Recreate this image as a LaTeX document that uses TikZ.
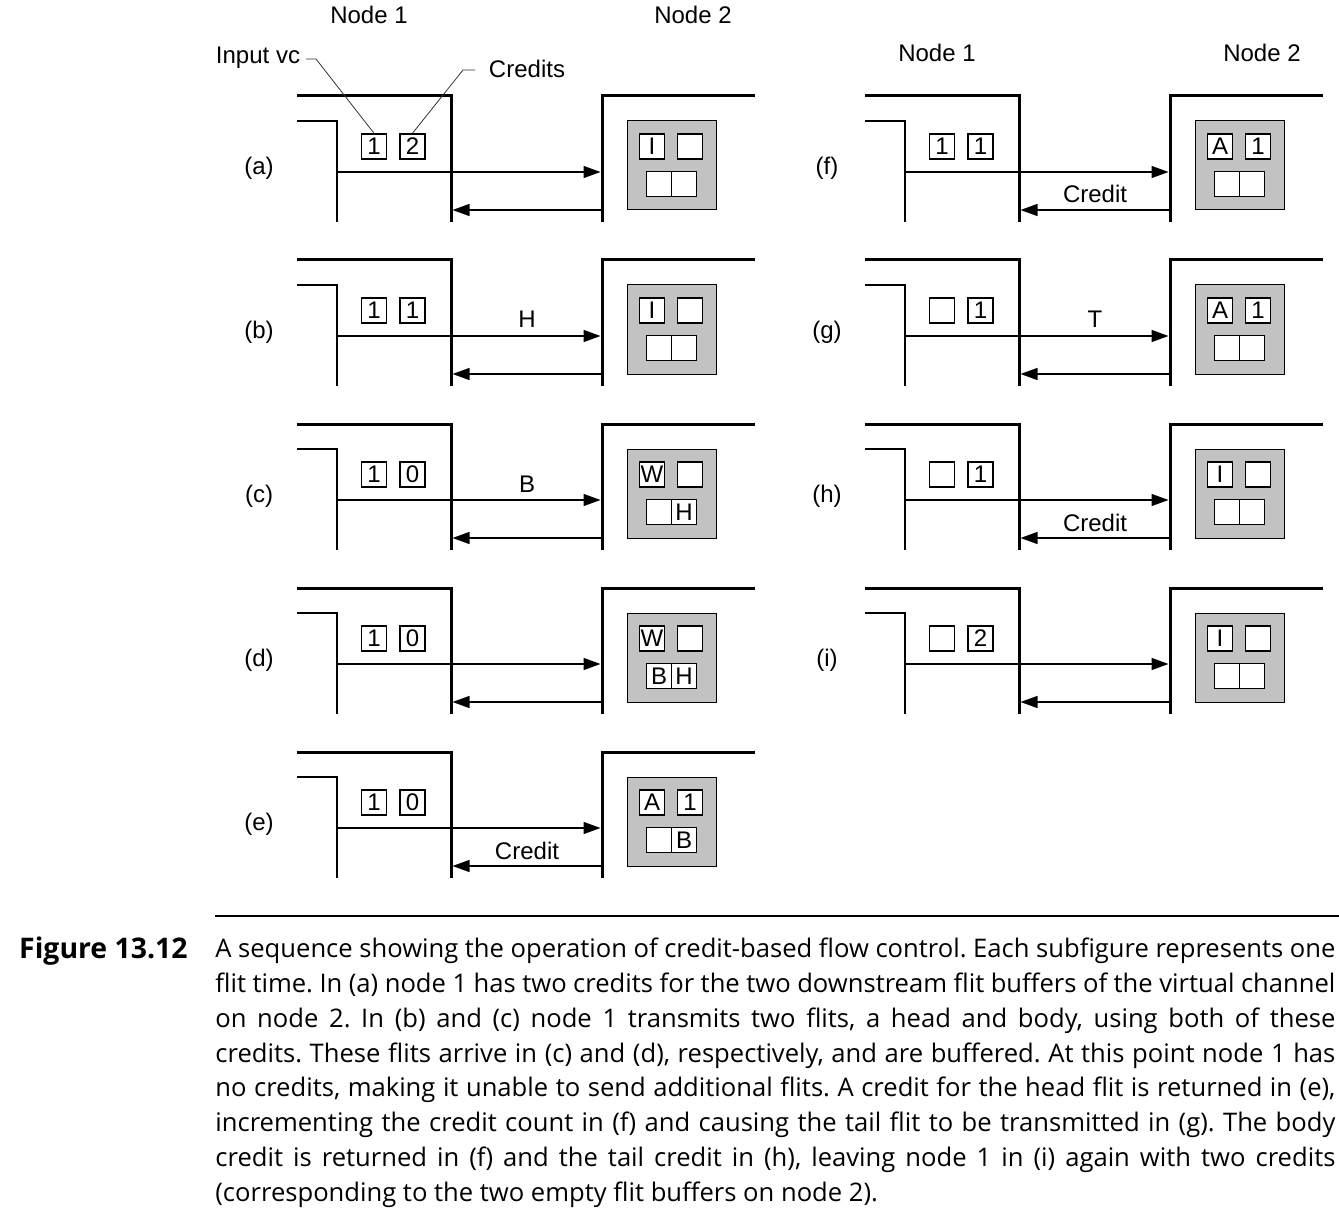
\documentclass[tikz,border=0pt]{standalone}
\usepackage{fontspec}
\setmainfont{Liberation Sans}
\newfontfamily\capfont{Open Sans}
\usetikzlibrary{arrows.meta}
\definecolor{boxgray}{gray}{0.76}
\tikzset{
  wall/.style={line width=1.5pt, line join=miter},
  innerwall/.style={line width=0.6pt},
  link/.style={line width=0.7pt, -{Triangle[length=8.5pt,width=6pt]}},
  buf/.style={draw, line width=0.75pt, fill=white, minimum size=12.5pt, inner sep=0pt, font=\fontsize{12}{12}\selectfont},
  vcbox/.style={draw, line width=0.5pt, fill=boxgray, minimum size=44.5pt, inner sep=0pt},
  lab/.style={font=\fontsize{12}{14}\selectfont, inner sep=0pt},
  leader/.style={line width=0.4pt, draw=black!80},
}
\newcommand\flowframe[6]{%
  \begin{scope}[shift={(#2,#3)}]
    \coordinate (#1-n1a) at (297,96);
    \coordinate (#1-n1b) at (451,222);
    \coordinate (#1-ina) at (297,121);
    \coordinate (#1-inb) at (337,222);
    \coordinate (#1-n2a) at (755,96);
    \coordinate (#1-n2b) at (602,222);
    \coordinate (#1-out) at (337,172);
    \coordinate (#1-in) at (600.5,172);
    \coordinate (#1-rs) at (602,210);
    \coordinate (#1-re) at (452.5,210);
    \draw[wall] (#1-n1a) -| (#1-n1b);
    \draw[innerwall] (#1-ina) -| (#1-inb);
    \draw[wall] (#1-n2a) -| (#1-n2b);
    \draw[link] (#1-out) -- (#1-in);
    \draw[link] (#1-rs) -- (#1-re);
    \node[lab] (#1-lab) at (259,168) {#4};
    \node[lab, anchor=base] (#1-fl) at (527,164) {#5};
    \node[lab, anchor=base] (#1-rl) at (527,203) {#6};
    \node[vcbox] (#1-vc) at (671.5,165.5) {};
  \end{scope}}
\newcommand\flowbufs[9]{%
  \begin{scope}[shift={(#2,#3)}]
    \node[buf] (#1-c1) at (374,146.5) {#4};
    \node[buf] (#1-c2) at (412.5,146.5) {#5};
    \node[buf] (#1-tl) at (652,146.5) {#6};
    \node[buf] (#1-tr) at (690,146.5) {#7};
    \node[buf] (#1-bl) at (659,184) {#8};
    \node[buf] (#1-br) at (684,184) {#9};
  \end{scope}}
\begin{document}
\begin{tikzpicture}[x=0.5pt,y=-0.5pt]
\useasboundingbox (0,0) rectangle (1339,1209);
% headings
\node[lab, anchor=base] (h11) at (369,24) {Node 1};
\node[lab, anchor=base] (h12) at (693,24) {Node 2};
\node[lab, anchor=base] (h21) at (937,62) {Node 1};
\node[lab, anchor=base] (h22) at (1262,62) {Node 2};
% panels
\flowframe{a}{0}{0}{(a)}{}{}
\flowbufs{a}{0}{0}{1}{2}{I}{}{}{}
\flowframe{b}{0}{164}{(b)}{H}{}
\flowbufs{b}{0}{164}{1}{1}{I}{}{}{}
\flowframe{c}{0}{328}{(c)}{B}{}
\flowbufs{c}{0}{328}{1}{0}{W}{}{}{H}
\flowframe{d}{0}{492}{(d)}{}{}
\flowbufs{d}{0}{492}{1}{0}{W}{}{B}{H}
\flowframe{e}{0}{656}{(e)}{}{Credit}
\flowbufs{e}{0}{656}{1}{0}{A}{1}{}{B}
\flowframe{f}{568}{0}{(f)}{}{Credit}
\flowbufs{f}{568}{0}{1}{1}{A}{1}{}{}
\flowframe{g}{568}{164}{(g)}{T}{}
\flowbufs{g}{568}{164}{}{1}{A}{1}{}{}
\flowframe{h}{568}{328}{(h)}{}{Credit}
\flowbufs{h}{568}{328}{}{1}{I}{}{}{}
\flowframe{i}{568}{492}{(i)}{}{}
\flowbufs{i}{568}{492}{}{2}{I}{}{}{}
% callouts
\node[lab, anchor=base] (ivc) at (258,64) {Input vc};
\node[lab, anchor=base] (crd) at (527,78) {Credits};
\coordinate (ivc-t) at (306,59);
\coordinate (crd-t) at (475,70);
\draw[leader] (ivc-t) -- ++(10,0) -- (a-c1.north);
\draw[leader] (crd-t) -- ++(-12,0) -- (a-c2.north);
% caption
\draw[line width=1pt] (215,916) -- (1339,916);
\node[anchor=base east, inner sep=0pt, font=\capfont\bfseries\fontsize{14.2}{17.5}\selectfont] (fig) at (188,958) {Figure 13.12};
\node[anchor=north west, inner sep=0pt, text width=560pt, align=justify, font=\capfont\fontsize{12.8}{17.4}\selectfont] (cap) at (215,933) {\frenchspacing\strut A sequence showing the operation of credit-based flow control. Each subfigure represents one\linebreak
flit time. In (a) node 1 has two credits for the two downstream flit buffers of the virtual channel\linebreak
on node 2. In (b) and (c) node 1 transmits two flits, a head and body, using both of these\linebreak
credits. These flits arrive in (c) and (d), respectively, and are buffered. At this point node 1 has\linebreak
no credits, making it unable to send additional flits. A credit for the head flit is returned in (e),\linebreak
incrementing the credit count in (f) and causing the tail flit to be transmitted in (g). The body\linebreak
credit is returned in (f) and the tail credit in (h), leaving node 1 in (i) again with two credits\linebreak
(corresponding to the two empty flit buffers on node 2).};
\end{tikzpicture}
\end{document}
